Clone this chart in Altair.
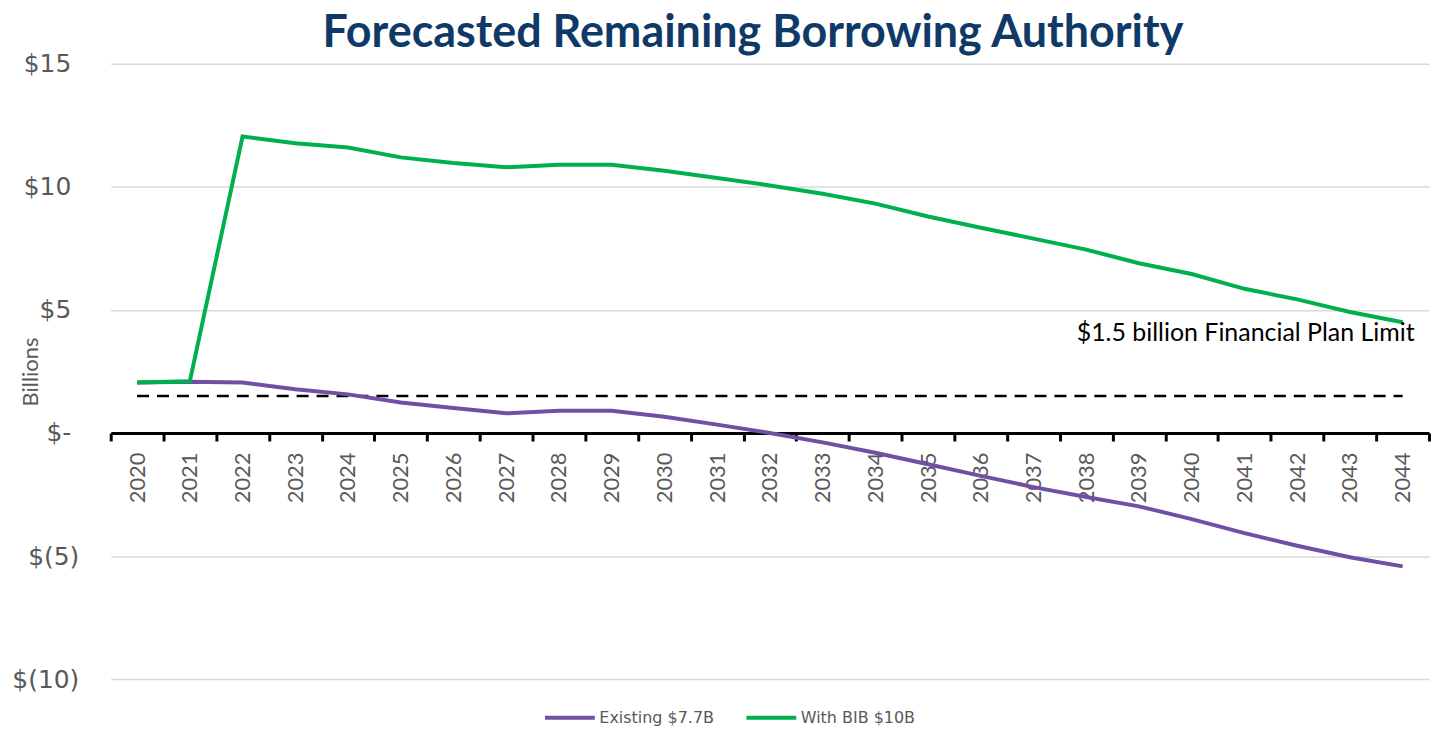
import altair as alt
import pandas as pd

years = [str(y) for y in range(2020, 2045)]
existing = [2.05, 2.08, 2.05, 1.78, 1.57, 1.24, 1.02, 0.80, 0.90, 0.90, 0.66, 0.34, 0.00,
            -0.38, -0.80, -1.27, -1.74, -2.20, -2.60, -2.98, -3.50, -4.07, -4.58, -5.05, -5.42]
with_bib = [2.05, 2.10, 12.05, 11.77, 11.60, 11.20, 10.97, 10.80, 10.90, 10.90, 10.66, 10.36,
            10.06, 9.72, 9.32, 8.80, 8.34, 7.90, 7.45, 6.90, 6.46, 5.86, 5.43, 4.92, 4.50]
limit = [1.5] * len(years)
series_names = ["Existing $7.7B", "With BIB $10B"]
series_colors = ["#7050A2", "#00B04F"]
y_ticks = [-10, -5, 0, 5, 10, 15]
annotation = "$1.5 billion Financial Plan Limit"

lines_df = pd.DataFrame({
    "year": years * 2,
    "value": existing + with_bib,
    "series": [series_names[0]] * len(years) + [series_names[1]] * len(years),
    "order": [0] * len(years) + [1] * len(years),
})
limit_df = pd.DataFrame({"year": years, "value": limit})
note_df = pd.DataFrame({"year": [years[-1]], "value": [4.06], "text": [annotation]})

W, H = 1322, 617
zero_px = H * 15 / 25

x_enc = alt.X(
    "year:O",
    bandPosition=0.5,
    sort=years,
    scale=alt.Scale(type="band", paddingInner=0, paddingOuter=0, domain=years),
    axis=alt.Axis(
        title=None, tickBand="extent", offset=zero_px - H, labelAngle=270,
        labelAlign="right", labelBaseline="middle", labelPadding=11,
        labelFontSize=22, labelColor="#595959", labelFont="Lato",
        domainColor="#000000", domainWidth=3, tickColor="#000000",
        tickWidth=3, tickSize=8, grid=False, zindex=0,
    ),
)
y_enc = alt.Y(
    "value:Q",
    scale=alt.Scale(domain=[-10, 15], nice=False, zero=False),
    axis=alt.Axis(
        values=y_ticks, title="Billions", titleX=30 - 110, titleY=H / 2,
        titleFontSize=22, titleFontWeight="normal", titleColor="#595959",
        titleFont="Lato", titleAlign="center", titleBaseline="middle",
        labelExpr="datum.value == 0 ? '$-' : (datum.value < 0 ? '$(' + abs(datum.value) + ')' : '$' + datum.value)",
        labelFontSize=25, labelColor="#595959", labelFont="DejaVu Sans",
        labelPadding={"condition": {"test": "datum.value < 0", "value": 32}, "value": 40},
        domain=False, ticks=False, gridColor="#D9D9D9", gridWidth=1.5, zindex=0,
    ),
)

limit_layer = alt.Chart(limit_df).mark_line(
    color="#000000", strokeWidth=2.5, strokeDash=[12, 8]
).encode(x=x_enc, y=y_enc)

lines_layer = alt.Chart(lines_df).mark_line(strokeWidth=4).encode(
    x=x_enc,
    y=y_enc,
    detail="series:N",
    order="order:Q",
    color=alt.Color(
        "series:N",
        scale=alt.Scale(domain=series_names, range=series_colors),
        legend=alt.Legend(
            title=None, orient="none", direction="horizontal",
            legendX=452, legendY=647, padding=0,
            symbolType="M-4,0H4", symbolSize=156, symbolStrokeWidth=4,
            labelFontSize=16, labelColor="#595959", labelFont="DejaVu Sans",
            labelOffset=21, columnPadding=23,
        ),
    ),
)

note_layer = alt.Chart(note_df).mark_text(
    align="right", baseline="middle", fontSize=25, font="Lato", color="#000000", dx=12
).encode(x=alt.X("year:O", bandPosition=0.5, sort=years), y=alt.Y("value:Q"), text="text:N")

chart = alt.layer(limit_layer, lines_layer, note_layer).properties(
    width=W, height=H,
    padding={"left": 3, "right": 0, "top": 2, "bottom": 0},
    title=alt.Title(
        "Forecasted Remaining Borrowing Authority", fontSize=45, font="Lato",
        fontWeight="bold", color="#0F3A68", anchor="middle", frame="group",
        dx=-17, offset=-4,
    ),
).configure_view(stroke=None)

chart.save("out.html", embed_options={"renderer": "svg", "actions": False})
